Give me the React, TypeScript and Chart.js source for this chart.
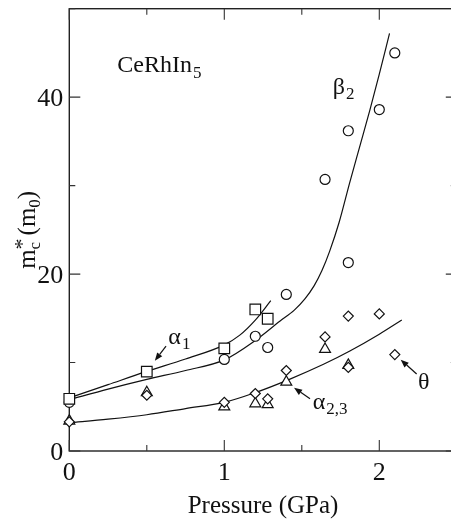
import React, { useEffect, useRef } from 'react';
import { Chart, registerables } from 'chart.js';

Chart.register(...registerables);

const W = 466;
const H = 519;
const VIEW_W = 451;
const FONT = "'Liberation Serif', 'Times New Roman', serif";
const INK = '#111111';

// ---- data ----
const xTickLabels = ['0', '', '1', '', '2', ''];
const yTickLabels = ['0', '', '20', '', '40', ''];

// beta_2 (circles)
const circleX = [0, 1, 1.2, 1.28, 1.4, 1.65, 1.8, 1.8, 2.0, 2.1];
const circleY = [5.5, 10.35, 12.97, 11.7, 17.7, 30.7, 36.2, 21.3, 38.6, 45.0];
// alpha_1 (squares)
const squareX = [0, 0.5, 1, 1.2, 1.28];
const squareY = [5.9, 8.97, 11.6, 16.0, 14.95];
// theta (diamonds)
const diamondX = [0, 0.5, 1, 1.2, 1.28, 1.4, 1.65, 1.8, 1.8, 2.0, 2.1];
const diamondY = [3.3, 6.3, 5.5, 6.5, 5.9, 9.1, 12.9, 15.25, 9.45, 15.5, 10.9];
// alpha_2,3 (triangles)
const triangleX = [0, 0.5, 1, 1.2, 1.28, 1.4, 1.65, 1.8];
const triangleY = [3.4, 6.6, 5.0, 5.35, 5.25, 7.8, 11.5, 9.7];

// fitted curves
const alpha1FitX = [0, 0.25, 0.5, 0.75, 1.0, 1.1, 1.2, 1.3];
const alpha1FitY = [6.0, 7.5, 9.0, 10.4, 12.0, 13.1, 14.8, 17.0];
const beta2FitX = [0, 0.25, 0.5, 0.75, 1.0, 1.2, 1.36, 1.45, 1.52, 1.58, 1.63, 1.68, 1.74, 1.81, 1.88, 1.94, 2.0, 2.066];
const beta2FitY = [5.8, 7.0, 8.1, 9.1, 10.3, 12.5, 14.7, 15.9, 17.2, 18.7, 20.4, 22.6, 25.8, 30.4, 34.8, 38.6, 42.6, 47.2];
const lowFitX = [0, 0.25, 0.5, 0.75, 1.0, 1.2, 1.42, 1.64, 1.81, 2.0, 2.145];
const lowFitY = [3.2, 3.6, 4.1, 4.8, 5.5, 6.6, 8.1, 9.8, 11.3, 13.2, 14.8];

// annotations
const labelText = ['CeRhIn', '\u03B2', '\u03B1', '\u03B1', '\u03B8'];
const labelSub = ['5', '2', '1', '2,3', ''];
const labelX = [0.31, 1.70, 0.639, 1.57, 2.25];
const labelY = [42.8, 40.4, 12.1, 4.79, 7.03];

const arrowFromX = [0.624, 1.553, 2.241];
const arrowFromY = [11.85, 5.91, 8.71];
const arrowToX = [0.552, 1.45, 2.138];
const arrowToY = [10.2, 7.14, 10.32];

const xTitle = 'Pressure (GPa)';

const zip = (xs: number[], ys: number[]) => xs.map((x, i) => ({ x, y: ys[i] }));

const framePlugin = {
  id: 'frameTicks',
  beforeDatasetsDraw(chart: any) {
    const { ctx, chartArea: a, scales } = chart;
    const xs = scales.x;
    const ys = scales.y;
    ctx.save();
    ctx.strokeStyle = '#222';
    ctx.lineWidth = 1.4;
    ctx.strokeRect(a.left, a.top, a.right - a.left, a.bottom - a.top);
    ctx.lineWidth = 1.1;
    ctx.strokeStyle = '#333';
    ctx.beginPath();
    xs.ticks.forEach((t: any, i: number) => {
      const px = xs.getPixelForValue(t.value);
      const L = xTickLabels[i] ? 11 : 6;
      ctx.moveTo(px, a.bottom);
      ctx.lineTo(px, a.bottom - L);
      ctx.moveTo(px, a.top);
      ctx.lineTo(px, a.top + L);
    });
    ys.ticks.forEach((t: any, i: number) => {
      const py = ys.getPixelForValue(t.value);
      const L = yTickLabels[i] ? 11 : 6;
      ctx.moveTo(a.left, py);
      ctx.lineTo(a.left + L, py);
      ctx.moveTo(a.right, py);
      ctx.lineTo(a.right - L, py);
    });
    ctx.stroke();

    // tick labels
    ctx.fillStyle = INK;
    ctx.font = `26px ${FONT}`;
    ctx.textBaseline = 'alphabetic';
    ctx.textAlign = 'center';
    xs.ticks.forEach((t: any, i: number) => {
      const lab = xTickLabels[i];
      if (lab) ctx.fillText(lab, xs.getPixelForValue(t.value), a.bottom + 29);
    });
    ctx.textAlign = 'right';
    ys.ticks.forEach((t: any, i: number) => {
      const lab = yTickLabels[i];
      if (lab) ctx.fillText(lab, a.left - 6, ys.getPixelForValue(t.value) + 9.3);
    });
    ctx.restore();
  },
  afterDraw(chart: any) {
    const { ctx, chartArea: a, scales } = chart;
    const xs = scales.x;
    const ys = scales.y;
    ctx.save();
    ctx.fillStyle = INK;
    ctx.strokeStyle = INK;
    ctx.textBaseline = 'alphabetic';
    ctx.textAlign = 'left';

    // annotation labels
    labelText.forEach((txt, i) => {
      const px = xs.getPixelForValue(labelX[i]);
      const py = ys.getPixelForValue(labelY[i]);
      ctx.font = `24px ${FONT}`;
      ctx.fillText(txt, px, py);
      const w = ctx.measureText(txt).width;
      if (labelSub[i]) {
        ctx.font = `17px ${FONT}`;
        ctx.fillText(labelSub[i], px + w + 1, py + 5.5);
      }
    });

    // arrows
    arrowFromX.forEach((_, i) => {
      const x1 = xs.getPixelForValue(arrowFromX[i]);
      const y1 = ys.getPixelForValue(arrowFromY[i]);
      const x2 = xs.getPixelForValue(arrowToX[i]);
      const y2 = ys.getPixelForValue(arrowToY[i]);
      const ang = Math.atan2(y2 - y1, x2 - x1);
      const hl = 8;
      const hw = 3.2;
      const bx = x2 - hl * Math.cos(ang);
      const by = y2 - hl * Math.sin(ang);
      ctx.lineWidth = 1.2;
      ctx.beginPath();
      ctx.moveTo(x1, y1);
      ctx.lineTo(bx, by);
      ctx.stroke();
      ctx.beginPath();
      ctx.moveTo(x2, y2);
      ctx.lineTo(bx + hw * Math.sin(ang), by - hw * Math.cos(ang));
      ctx.lineTo(bx - hw * Math.sin(ang), by + hw * Math.cos(ang));
      ctx.closePath();
      ctx.fill();
    });

    // x title
    ctx.font = `25px ${FONT}`;
    ctx.textAlign = 'center';
    ctx.fillText(xTitle, (a.left + a.right) / 2, 513);

    // y title: m_c^* (m_0)
    ctx.save();
    ctx.translate(35, (a.top + a.bottom) / 2);
    ctx.rotate(-Math.PI / 2);
    ctx.textAlign = 'left';
    const big = `25px ${FONT}`;
    const small = `17px ${FONT}`;
    const star = `22px ${FONT}`;
    ctx.font = big;
    const wm = ctx.measureText('m').width;
    const wp1 = ctx.measureText('(').width;
    const wp2 = ctx.measureText(')').width;
    ctx.font = small;
    const wc = ctx.measureText('c').width;
    const w0 = ctx.measureText('0').width;
    ctx.font = star;
    const ws = ctx.measureText('*').width;
    const gap = 3;
    const total = wm + Math.max(wc, ws) + gap + wp1 + wm + w0 + wp2;
    let cx = -total / 2;
    ctx.font = big;
    ctx.fillText('m', cx, 0);
    cx += wm;
    ctx.font = star;
    ctx.fillText('*', cx, -6);
    ctx.font = small;
    ctx.fillText('c', cx, 5);
    cx += Math.max(wc, ws) + gap;
    ctx.font = big;
    ctx.fillText('(', cx, 0);
    cx += wp1;
    ctx.fillText('m', cx, 0);
    cx += wm;
    ctx.font = small;
    ctx.fillText('0', cx, 5);
    cx += w0;
    ctx.font = big;
    ctx.fillText(')', cx, 0);
    ctx.restore();

    ctx.restore();
  },
};

const markerBase = {
  type: 'scatter' as const,
  showLine: false,
  borderColor: INK,
  backgroundColor: '#ffffff',
  borderWidth: 1.2,
  clip: false as any,
};

const curveBase = {
  type: 'line' as const,
  borderColor: '#111',
  borderWidth: 1.2,
  pointRadius: 0,
  fill: false,
  cubicInterpolationMode: 'monotone' as const,
  clip: false as any,
};

export default function App() {
  const ref = useRef<HTMLCanvasElement>(null);
  useEffect(() => {
    const chart = new Chart(ref.current as HTMLCanvasElement, {
      type: 'scatter',
      data: {
        datasets: [
          { ...curveBase, data: zip(alpha1FitX, alpha1FitY), order: 10 } as any,
          { ...curveBase, data: zip(beta2FitX, beta2FitY), order: 10 } as any,
          { ...curveBase, data: zip(lowFitX, lowFitY), order: 10 } as any,
          { ...markerBase, data: zip(circleX, circleY), pointStyle: 'circle', pointRadius: 5, order: 5 } as any,
          { ...markerBase, data: zip(squareX, squareY), pointStyle: 'rect', pointRadius: 7.5, order: 4 } as any,
          { ...markerBase, data: zip(triangleX, triangleY), pointStyle: 'triangle', pointRadius: 6.3, order: 3 } as any,
          { ...markerBase, data: zip(diamondX, diamondY), pointStyle: 'rectRot', pointRadius: 5, order: 2 } as any,
        ],
      },
      options: {
        animation: false,
        responsive: false,
        maintainAspectRatio: false,
        events: [],
        layout: { padding: { left: 0, top: 4.7, right: W - 456.8, bottom: 0 } },
        plugins: { legend: { display: false }, tooltip: { enabled: false } },
        scales: {
          x: {
            type: 'linear',
            min: 0,
            max: 2.5,
            grid: { display: false, drawTicks: false },
            border: { display: false },
            ticks: { display: false, stepSize: 0.5, autoSkip: false },
            afterFit: (s: any) => {
              s.height = 68;
            },
          },
          y: {
            type: 'linear',
            min: 0,
            max: 50,
            grid: { display: false, drawTicks: false },
            border: { display: false },
            ticks: { display: false, stepSize: 10, autoSkip: false },
            afterFit: (s: any) => {
              s.width = 69.3;
            },
          },
        },
      },
      plugins: [framePlugin],
    });
    return () => chart.destroy();
  }, []);
  return (
    <div style={{ position: 'fixed', left: 0, top: 0, width: VIEW_W, height: H, overflow: 'hidden', background: '#fff' }}>
      <canvas ref={ref} width={W} height={H} style={{ width: W, height: H, display: 'block' }} />
    </div>
  );
}
